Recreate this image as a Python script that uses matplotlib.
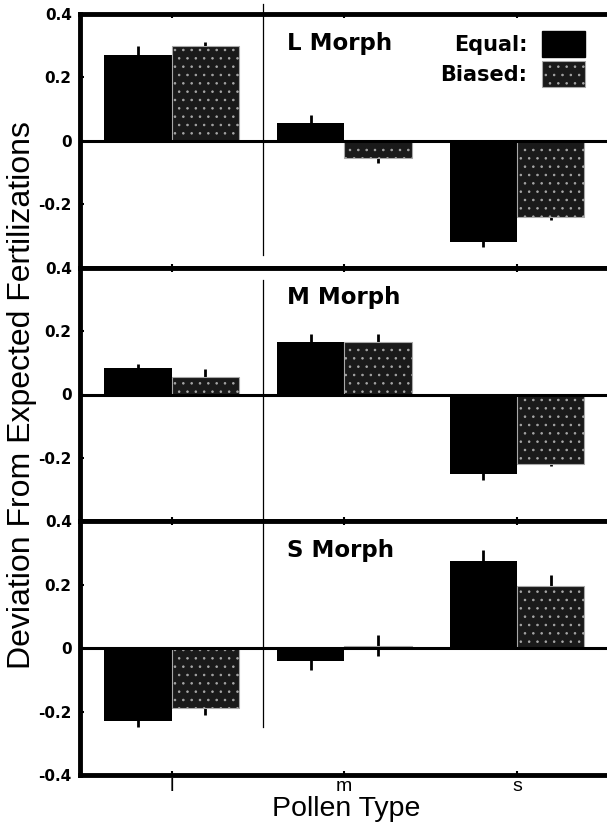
import numpy as np
import matplotlib
matplotlib.use("Agg")
import matplotlib.pyplot as plt
from matplotlib.patches import Patch

# ---------------------------------
# Data
# ---------------------------------

pollen_types = ["l", "m", "s"]
morphs = ["L Morph", "M Morph", "S Morph"]

equal_vals = [
    [0.27, 0.055, -0.32],
    [0.085, 0.165, -0.25],
    [-0.23, -0.04, 0.275],
]
equal_err = [
    [0.03, 0.025, 0.015],
    [0.012, 0.025, 0.02],
    [0.02, 0.03, 0.035],
]

biased_vals = [
    [0.30, -0.055, -0.24],
    [0.055, 0.165, -0.22],
    [-0.19, 0.008, 0.195],
]
biased_err = [
    [0.012, 0.015, 0.01],
    [0.025, 0.025, 0.006],
    [0.02, 0.032, 0.035],
]

yticks_top = [0.4, 0.2, 0, -0.2]
yticks_bottom = [0.4, 0.2, 0, -0.2, -0.4]
ytick_labels = {0.4: "0.4", 0.2: "0.2", 0: "0", -0.2: "-0.2", -0.4: "-0.4"}

separator_x = 0.53
separator_span = [(0.05, 1.04), (0.0, 0.95), (0.19, 1.0)]

# ---------------------------------
# Style
# ---------------------------------

plt.rcParams["font.family"] = ["Liberation Sans", "DejaVu Sans"]
plt.rcParams["hatch.linewidth"] = 0.6

BOLD = ["DejaVu Sans"]
STIPPLE_FACE = "#1a1a1a"
STIPPLE_EDGE = "#a8a8a8"

fig = plt.figure(figsize=(6.07, 8.32), dpi=100)

left, right = 80 / 607, 1.008
top, bottom = 1 - 14 / 832, 1 - 775 / 832
panel_h = (top - bottom) / 3

x = np.arange(len(pollen_types))
width = 0.39

axes = []
for i, morph in enumerate(morphs):
    ax = fig.add_axes([left, top - (i + 1) * panel_h, right - left, panel_h])
    axes.append(ax)

    # error bars behind bars
    ax.errorbar(x - width / 2, equal_vals[i], yerr=equal_err[i], fmt="none",
                ecolor="black", elinewidth=2, capsize=0, zorder=1)
    ax.errorbar(x + width / 2, biased_vals[i], yerr=biased_err[i], fmt="none",
                ecolor="black", elinewidth=2, capsize=0, zorder=1)

    ax.bar(x - width / 2, equal_vals[i], width, color="black",
           edgecolor="black", linewidth=0, zorder=2)
    ax.bar(x + width / 2, biased_vals[i], width, color=STIPPLE_FACE,
           edgecolor=STIPPLE_EDGE, hatch="..", linewidth=0.8, zorder=2)

    ax.axhline(0, color="black", lw=2.2, zorder=3)

    y0, y1 = separator_span[i]
    ax.axvline(separator_x, ymin=y0, ymax=y1, color="black", lw=0.9,
               clip_on=False, zorder=4)

    ax.set_xlim(-0.53, 2.55)
    ax.set_ylim(-0.4, 0.4)

    ticks = yticks_bottom if i == 2 else yticks_top
    ax.set_yticks(ticks)
    ax.set_yticklabels([ytick_labels[t] for t in ticks], fontsize=11,
                       fontweight="bold", family=BOLD)
    ax.set_xticks(x)
    if i == 2:
        ax.set_xticklabels(pollen_types, fontsize=14)
    else:
        ax.set_xticklabels([])

    ax.tick_params(axis="y", direction="in", length=3, width=1.5, pad=6)
    ax.tick_params(axis="x", direction="in", length=3, width=1.5,
                   top=True, pad=2)

    for sp in ax.spines.values():
        sp.set_linewidth(3.5)

    ax.text(0.39, 0.858, morph, transform=ax.transAxes, fontsize=16.5,
            fontweight="bold", family=BOLD, va="baseline", ha="left")

# ---------------------------------
# Legend
# ---------------------------------

handles = [
    Patch(facecolor="black", edgecolor="black"),
    Patch(facecolor=STIPPLE_FACE, edgecolor=STIPPLE_EDGE, hatch="..",
          linewidth=0.8),
]
axes[0].legend(handles, ["Equal:", "Biased:"], loc="upper right",
               bbox_to_anchor=(0.97, 0.975), frameon=False, markerfirst=False,
               prop={"weight": "bold", "size": 15, "family": BOLD},
               borderpad=0, handlelength=2.1, handleheight=1.55,
               handletextpad=0.7, labelspacing=0.2)

fig.text(22 / 607, 1 - 395 / 832, "Deviation From Expected Fertilizations",
         rotation=90, fontsize=23, ha="center", va="center")
axes[2].set_xlabel("Pollen Type", fontsize=20.5, labelpad=1)

fig.savefig("out.png", dpi=100)
